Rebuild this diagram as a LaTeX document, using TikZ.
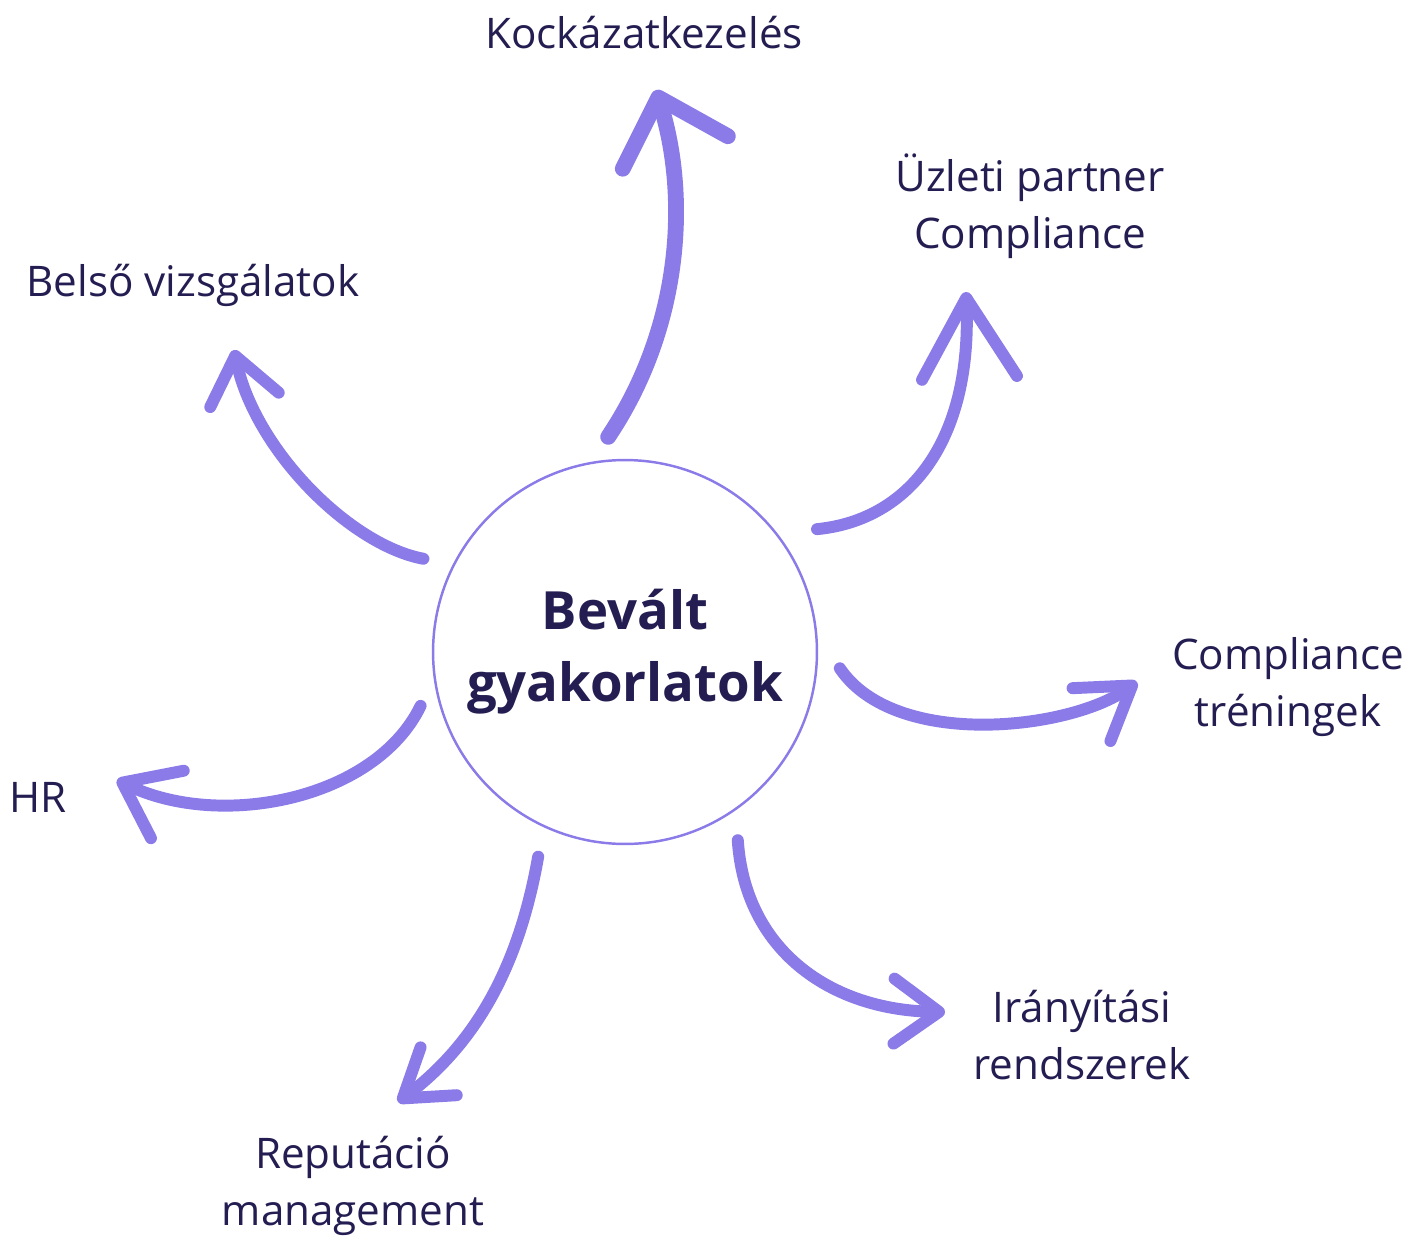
\documentclass[tikz,border=0pt]{standalone}
\usepackage{fontspec}
\setmainfont{Open Sans}
\usetikzlibrary{arrows.meta}
\definecolor{ink}{HTML}{231D52}
\definecolor{lilac}{HTML}{8A7BE8}
\tikzset{hub/.style={circle,draw=lilac,line width=1.4pt,minimum size=7.68cm,inner sep=0pt,
  text=ink,align=center,font=\bfseries\fontsize{30}{41}\selectfont},
  topic/.style={text=ink,align=center,inner sep=0pt,font=\fontsize{24}{32.5}\selectfont},
  brush/.style={draw=lilac,line width=6.8pt,line cap=round,shorten <=0.6cm},
  head/.style 2 args={-{Straight Barb[length=#1,width=#2,round]}}}

\begin{document}
\begin{tikzpicture}[x=0.02cm,y=-0.02cm]
\useasboundingbox (0,0) rectangle (1412,1243);
\node[hub] (hub) at (625,652) {Bevált\\gyakorlatok};
\node[topic] (risk) at (644,33) {Kockázatkezelés};
\node[topic] (partner) at (1030,206) {Üzleti partner\\Compliance};
\node[topic] (inquiry) at (193,285) {Belső vizsgálatok};
\node[topic] (training) at (1288,687) {Compliance\\tréningek};
\node[topic] (hr) at (38,797) {HR};
\node[topic] (control) at (1082,1035) {Irányítási\\rendszerek};
\node[topic] (reputation) at (353,1186) {Reputáció\\management};
% free ends of the brush arrows
\coordinate (toRisk) at (656,90);
\coordinate (toPartner) at (966,292);
\coordinate (toInquiry) at (234,350);
\coordinate (toTraining) at (1137,682);
\coordinate (toHr) at (117,780);
\coordinate (toControl) at (945,1012);
\coordinate (toReputation) at (398,1102);
\draw[brush,line width=9pt,head={1.15cm}{2.2cm}] (hub.100) .. controls (680,330) and (690,200) .. (toRisk);
\draw[brush,shorten <=0.8cm,head={1.6cm}{1.9cm}] (hub.38) .. controls (910,520) and (972,440) .. (toPartner);
\draw[brush,head={0.9cm}{1.4cm}] (hub.153) .. controls (350,545) and (255,450) .. (toInquiry);
\draw[brush,shorten <=0.8cm,head={1cm}{1.3cm}] (hub.5) .. controls (895,750) and (1070,730) .. (toTraining);
\draw[brush,head={1cm}{1.5cm}] (hub.188) .. controls (375,800) and (220,830) .. (toHr);
\draw[brush,head={0.9cm}{1.3cm}] (hub.-55) .. controls (745,950) and (830,1010) .. (toControl);
\draw[brush,head={0.9cm}{1.2cm}] (hub.-115) .. controls (520,960) and (480,1040) .. (toReputation);
\end{tikzpicture}
\end{document}
